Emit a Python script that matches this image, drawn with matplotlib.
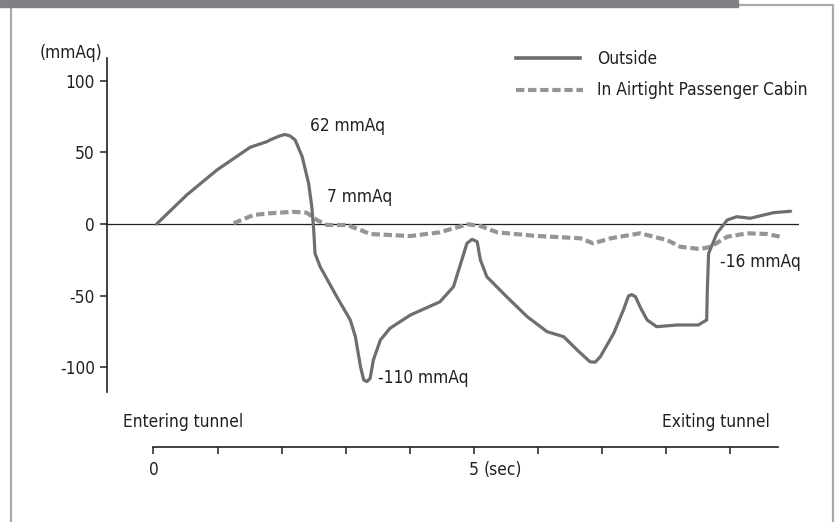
import matplotlib
matplotlib.use("Agg")
import matplotlib.pyplot as plt
from matplotlib import font_manager
from matplotlib.lines import Line2D
from matplotlib.patches import Rectangle

# reference uses a condensed grotesque; take DejaVu Sans Condensed if present
has_cond = any(f.name == 'DejaVu Sans' and f.stretch == 'condensed'
               for f in font_manager.fontManager.ttflist)
if has_cond:
    plt.rcParams['font.family'] = ['DejaVu Sans']
    plt.rcParams['font.stretch'] = 'condensed'
else:
    plt.rcParams['font.family'] = ['Liberation Sans', 'DejaVu Sans']
plt.rcParams['axes.unicode_minus'] = False

# pressure outside the train (mmAq) vs time (sec)
outside_t = [0.05, 0.52, 0.99, 1.51, 1.77, 1.82, 1.97, 2.05, 2.13, 2.21, 2.32, 2.42, 2.47,
             2.50, 2.52, 2.60, 2.86, 3.07, 3.15, 3.23, 3.28, 3.33, 3.38, 3.43, 3.54, 3.69,
             4.01, 4.47, 4.68, 4.81, 4.89, 4.97, 5.05, 5.10, 5.20, 5.51, 5.83, 6.14, 6.40,
             6.61, 6.81, 6.89, 6.97, 7.18, 7.33, 7.41, 7.46, 7.52, 7.59, 7.70, 7.85, 8.17,
             8.50, 8.63, 8.64, 8.66, 8.79, 8.95, 9.10, 9.31, 9.67, 9.94]
outside_p = [0, 20.3, 37.7, 53.6, 57.5, 58.7, 61.5, 62.5, 61.5, 58.7, 47, 28.4, 12.1,
             -4.2, -20.5, -29.8, -50.8, -67, -78.7, -99.7, -108.9, -110, -107.8, -95, -81, -72.8,
             -63.5, -54.3, -43.8, -25.1, -13.5, -10.7, -12.4, -25.1, -36.8, -50.8, -64.7, -75.2, -78.7,
             -88, -96.2, -96.5, -92.7, -76.3, -60.1, -50.3, -49.3, -50.8, -57.8, -67, -71.7, -70.5,
             -70.5, -67, -46.1, -20.5, -6.5, 2.8, 5.1, 4, 7.9, 8.9]

# pressure in airtight passenger cabin
cabin_t = [1.25, 1.56, 1.82, 2.18, 2.39, 2.55, 2.71, 3.02, 3.23, 3.38, 4.01, 4.47, 4.68,
           4.91, 5.10, 5.36, 5.93, 6.66, 6.86, 7.13, 7.59, 8.01, 8.22, 8.53, 8.69,
           8.95, 9.26, 9.57, 9.78]
cabin_p = [0.5, 6.3, 7.5, 8.5, 7.9, 2.8, -0.7, -0.7, -4.2, -7, -8.4, -5.8, -3,
           -0.2, -1.4, -5.8, -8.2, -10, -13.5, -10, -6.5, -11.2, -15.9, -17.5, -15.9,
           -8.9, -6.5, -7, -8.9]

yticks = [-100, -50, 0, 50, 100]
xticks = list(range(10))
xtick_labels = ['0', '', '', '', '', '5', '', '', '', '']

notes = [(2.44, 68.4, '62 mmAq'), (2.70, 18.9, '7 mmAq'),
         (3.51, -107.5, '-110 mmAq'), (8.83, -26.5, '-16 mmAq')]

W, H = 835, 522
dark = '#231f20'
c_out = '#6d6e71'
c_cab = '#939598'
fs = 12.4

fig = plt.figure(figsize=(W / 100, H / 100), dpi=100)

def fx(px):
    return px / W

def fy(py):
    return 1 - py / H

# frame and header bar
fig.add_artist(Line2D([fx(11), fx(11), fx(833), fx(833)], [0, fy(4.5), fy(4.5), 0],
                      color='#a7a9ac', lw=1.6, transform=fig.transFigure))
fig.add_artist(Rectangle((0, fy(7)), fx(738), 7 / H, color='#808184',
                         transform=fig.transFigure, zorder=3))

ax = fig.add_axes([fx(107.3), fy(392), fx(799) - fx(107.3), fy(58) - fy(392)])
ax.set_xlim(-0.72, 10.07)
ax.set_ylim(-117.3, 115.9)
for s in ['top', 'right', 'bottom']:
    ax.spines[s].set_visible(False)
ax.spines['left'].set_color(dark)
ax.spines['left'].set_linewidth(1.2)
ax.set_xticks([])
ax.set_yticks(yticks)
ax.tick_params(axis='y', direction='out', length=5, width=1.1, color=dark,
               labelsize=fs, labelcolor=dark, pad=4)
ax.axhline(0, color=dark, lw=0.9, zorder=1)

ax.plot(outside_t, outside_p, color=c_out, lw=2.3, solid_joinstyle='round',
        solid_capstyle='round', zorder=3)
cab, = ax.plot(cabin_t, cabin_p, color=c_cab, lw=3.0, dash_capstyle='butt', zorder=2)
cab.set_dashes((2.0, 0.9))

for t, v, s in notes:
    ax.text(t, v, s, fontsize=fs, color=dark, ha='left', va='center')

# time axis
ax2 = fig.add_axes([fx(107.3), fy(446.7), fx(799) - fx(107.3), 0.001])
ax2.set_xlim(-0.72, 10.07)
for s in ['top', 'right', 'left']:
    ax2.spines[s].set_visible(False)
ax2.patch.set_visible(False)
ax2.spines['bottom'].set_bounds(0, 9.75)
ax2.spines['bottom'].set_color(dark)
ax2.spines['bottom'].set_linewidth(1.2)
ax2.set_yticks([])
ax2.set_xticks(xticks)
ax2.set_xticklabels(xtick_labels)
ax2.tick_params(axis='x', direction='out', length=5, width=1.1, color=dark,
                labelsize=fs, labelcolor=dark, pad=5)

fig.text(fx(484), fy(470), '(sec)', fontsize=fs, color=dark, ha='left', va='center')
fig.text(fx(123), fy(422), 'Entering tunnel', fontsize=fs, color=dark, ha='left', va='center')
fig.text(fx(770), fy(422), 'Exiting tunnel', fontsize=fs, color=dark, ha='right', va='center')
fig.text(fx(102), fy(53), '(mmAq)', fontsize=fs, color=dark, ha='right', va='center')

# legend
fig.add_artist(Line2D([fx(516), fx(580)], [fy(58), fy(58)], color=c_out, lw=2.6,
                      transform=fig.transFigure))
leg = Line2D([fx(516), fx(583)], [fy(90), fy(90)], color=c_cab, lw=3.0,
             dash_capstyle='butt', transform=fig.transFigure)
leg.set_dashes((2.0, 0.9))
fig.add_artist(leg)
fig.text(fx(597), fy(59), 'Outside', fontsize=fs, color=dark, ha='left', va='center')
fig.text(fx(597), fy(90), 'In Airtight Passenger Cabin', fontsize=fs, color=dark,
         ha='left', va='center')

fig.savefig('out.png', dpi=100)
